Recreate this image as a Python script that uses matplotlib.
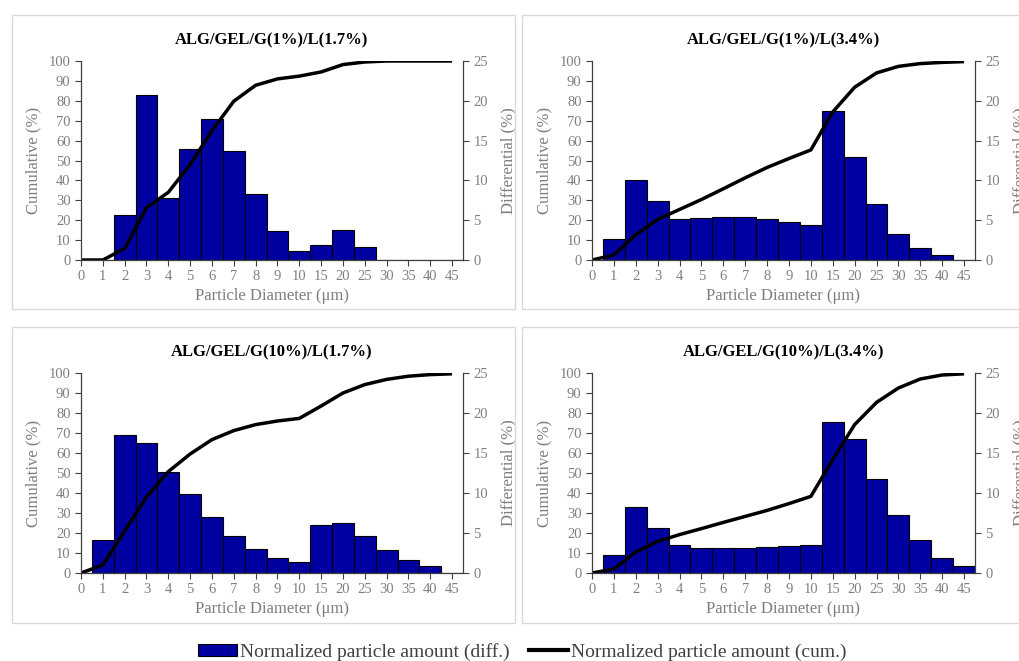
import matplotlib
matplotlib.use("Agg")
from matplotlib import pyplot as plt
from matplotlib.patches import Rectangle, Patch
from matplotlib.lines import Line2D

plt.rcParams['font.family'] = ['Liberation Serif', 'DejaVu Serif']

sizes = ["0", "1", "2", "3", "4", "5", "6", "7", "8", "9", "10",
         "15", "20", "25", "30", "35", "40", "45"]

titles = ["ALG/GEL/G(1%)/L(1.7%)", "ALG/GEL/G(1%)/L(3.4%)",
          "ALG/GEL/G(10%)/L(1.7%)", "ALG/GEL/G(10%)/L(3.4%)"]

# differential (%), right axis
diff_g1_l17 = [0, 0, 5.6, 20.75, 7.75, 13.9, 17.75, 13.75, 8.25, 3.6, 1.1,
               1.9, 3.75, 1.6, 0, 0, 0, 0]
diff_g1_l34 = [0, 2.6, 10.1, 7.4, 5.1, 5.25, 5.4, 5.4, 5.1, 4.75, 4.4,
               18.75, 13.0, 7.0, 3.25, 1.5, 0.6, 0]
diff_g10_l17 = [0, 4.1, 17.25, 16.25, 12.6, 9.9, 7.0, 4.6, 3.0, 1.9, 1.4,
                6.0, 6.25, 4.6, 2.9, 1.6, 0.9, 0]
diff_g10_l34 = [0, 2.25, 8.25, 5.6, 3.5, 3.1, 3.1, 3.1, 3.25, 3.4, 3.5,
                18.9, 16.75, 11.75, 7.25, 4.1, 1.9, 0.9]

# cumulative (%), left axis
cum_g1_l17 = [0, 0, 5.8, 26.3, 34, 48, 65, 79.8, 87.8, 91, 92.4,
              94.5, 98.2, 99.5, 100, 100, 100, 100]
cum_g1_l34 = [0, 2.5, 12.7, 20.4, 25.4, 30.4, 35.8, 41.3, 46.5, 51, 55.3,
              74.4, 86.8, 94, 97.3, 98.7, 99.3, 99.7]
cum_g10_l17 = [0, 4, 21, 38, 50.7, 59.5, 66.7, 71.2, 74.2, 76, 77.3,
               83.5, 90, 94.2, 96.8, 98.4, 99.2, 99.6]
cum_g10_l34 = [0, 2, 10.5, 15.8, 19.2, 22.2, 25.3, 28.3, 31.3, 34.7, 38.3,
               56.7, 74.2, 85.3, 92.5, 97, 99, 99.6]

diffs = [diff_g1_l17, diff_g1_l34, diff_g10_l17, diff_g10_l34]
cums = [cum_g1_l17, cum_g1_l34, cum_g10_l17, cum_g10_l34]

BLUE = "#0000a0"
GREY = "#7f7f7f"
W, H = 1019, 661

fig = plt.figure(figsize=(W / 100, H / 100), dpi=100)

# panel frames (pixels: x0, y0_top, x1, y1_bottom)
boxes = [(12, 15, 515, 309), (522, 15, 1030, 309),
         (12, 327, 515, 623), (522, 327, 1030, 623)]
for x0, y0, x1, y1 in boxes:
    fig.patches.append(Rectangle((x0 / W, 1 - y1 / H), (x1 - x0) / W, (y1 - y0) / H,
                                 transform=fig.transFigure, fill=False,
                                 edgecolor="#d9d9d9", linewidth=1.0))

# axes positions in pixels (left, top, right, bottom)
axes_px = [(81, 61, 463, 260), (592, 61, 975, 260),
           (81, 373, 463, 573), (592, 373, 975, 573)]

x = list(range(len(sizes)))

for i in range(4):
    l, t, r, b = axes_px[i]
    ax = fig.add_axes([l / W, 1 - b / H, (r - l) / W, (b - t) / H])
    ax2 = ax.twinx()
    ax.set_zorder(ax2.get_zorder() + 1)
    ax.patch.set_visible(False)

    ax2.bar(x, diffs[i], width=1.0, color=BLUE, edgecolor="black", linewidth=0.8)
    ax.plot(x, cums[i], color="black", linewidth=2.5, solid_capstyle="butt")

    ax.set_xlim(0, 17.5)
    ax.set_ylim(0, 100)
    ax2.set_ylim(0, 25)
    ax.set_yticks(range(0, 101, 10))
    ax2.set_yticks(range(0, 26, 5))
    ax.set_xticks(x)
    ax.set_xticklabels(sizes)

    for a in (ax, ax2):
        a.spines["top"].set_visible(False)
        a.tick_params(colors="#404040", labelcolor=GREY, labelsize=10.5,
                      length=4, width=0.8, direction="out")
        for s in a.spines.values():
            s.set_color("#404040")
            s.set_linewidth(0.9)
    ax.tick_params(axis="x", pad=3)
    ax2.spines["left"].set_visible(False)
    ax.spines["right"].set_visible(False)
    ax2.spines["bottom"].set_visible(False)

    ax.set_title(titles[i], fontsize=12, fontweight="bold", pad=12)
    ax.set_ylabel("Cumulative (%)", color=GREY, fontsize=12, labelpad=5)
    ax2.set_ylabel("Differential (%)", color=GREY, fontsize=12, labelpad=9)
    ax.set_xlabel("Particle Diameter (\u03bcm)", color=GREY, fontsize=12, labelpad=4)

handles = [Patch(facecolor=BLUE, edgecolor="black", linewidth=0.8),
           Line2D([0], [0], color="black", linewidth=3)]
labels = ["Normalized particle amount (diff.)", "Normalized particle amount (cum.)"]
fig.legend(handles, labels, loc="center", bbox_to_anchor=(522 / W, 1 - 652 / H),
           ncol=2, frameon=False, fontsize=14, handlelength=2.0, handleheight=0.6,
           handletextpad=0.15, columnspacing=1.0, labelcolor="#404040")

fig.savefig("out.png", dpi=100, facecolor="white")
